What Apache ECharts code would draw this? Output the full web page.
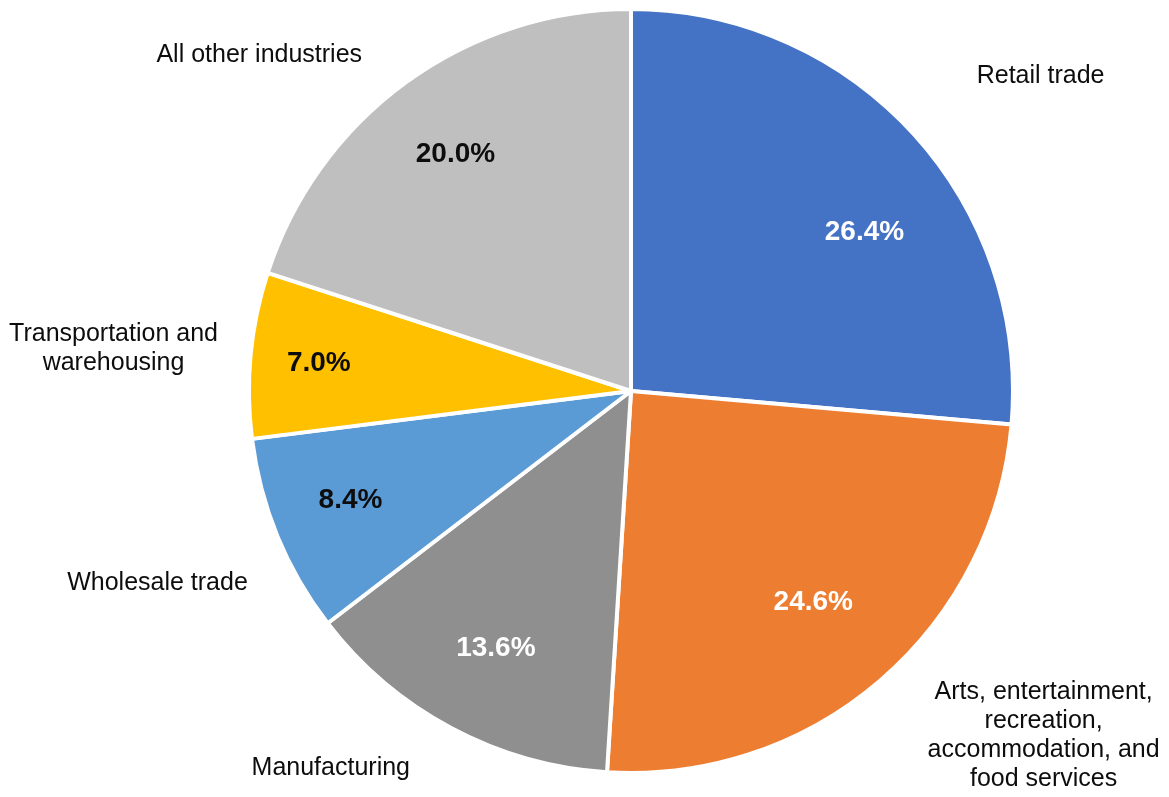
<!DOCTYPE html>
<html><head><meta charset="utf-8">
<script src="https://cdn.jsdelivr.net/npm/echarts@6/dist/echarts.min.js"></script>
<style>html,body{margin:0;padding:0;background:#fff}#c{width:1169px;height:797px}</style>
</head><body><div id="c"></div>
<script>
// ---- data ----
const categories = ['Retail trade', 'Arts, entertainment, recreation, accommodation, and food services', 'Manufacturing', 'Wholesale trade', 'Transportation and warehousing', 'All other industries'];
const categoryLabelLines = [
  ['Retail trade'],
  ['Arts, entertainment,', 'recreation,', 'accommodation, and', 'food services'],
  ['Manufacturing'],
  ['Wholesale trade'],
  ['Transportation and', 'warehousing'],
  ['All other industries']
];
const shares = [26.4, 24.6, 13.6, 8.4, 7.0, 20.0];

// ---- style ----
const sliceColors = ['#4472C4', '#ED7D31', '#8F8F8F', '#5B9BD5', '#FFC000', '#BFBFBF'];
const pctColors = ['#ffffff', '#ffffff', '#ffffff', '#0d0d0d', '#0d0d0d', '#0d0d0d'];
// label placement (as in the original, manually positioned)
const nameLineLen = [84, 73, 45, 123, 64, 33];
const nameLineLen2 = [2, 0, 20, -84, -31, 25];
const pctOffsets = [[17, 39], [-9, -11], [3, -2], [-9, -2], [-20, 0], [-3, 1]];

const FONT = "'Liberation Sans', Arial, sans-serif";
const CENTER = [631, 391];
const R = 382;

const mainData = categories.map((name, i) => ({
  name: name,
  value: shares[i],
  itemStyle: { color: sliceColors[i] },
  labelLine: { show: false, length: nameLineLen[i], length2: nameLineLen2[i] },
  label: {
    formatter: categoryLabelLines[i].map(l => '{c|' + l + '}').join('\n')
  }
}));

const pctData = categories.map((name, i) => ({
  name: name,
  value: shares[i],
  label: { color: pctColors[i], offset: pctOffsets[i] }
}));

const chart = echarts.init(document.getElementById('c'), null, { renderer: 'canvas' });
chart.setOption({
  animation: false,
  backgroundColor: '#ffffff',
  series: [
    {
      type: 'pie',
      center: CENTER,
      radius: [0, R],
      startAngle: 90,
      clockwise: true,
      avoidLabelOverlap: false,
      silent: true,
      itemStyle: { borderColor: '#ffffff', borderWidth: 4 },
      label: {
        show: true,
        position: 'outside',
        alignTo: 'none',
        distanceToLabelLine: 0,
        color: '#0d0d0d',
        fontFamily: FONT,
        fontSize: 25,
        lineHeight: 29,
        rich: {
          c: { align: 'center', fontFamily: FONT, fontSize: 25, lineHeight: 29, color: '#0d0d0d' }
        }
      },
      data: mainData
    },
    {
      type: 'pie',
      center: CENTER,
      radius: [199, R],
      startAngle: 90,
      clockwise: true,
      avoidLabelOverlap: false,
      silent: true,
      itemStyle: { color: 'rgba(0,0,0,0)', borderWidth: 0 },
      labelLine: { show: false },
      label: {
        show: true,
        position: 'inside',
        fontFamily: FONT,
        fontSize: 28,
        fontWeight: 'bold',
        formatter: p => p.value.toFixed(1) + '%'
      },
      data: pctData
    }
  ]
});
</script>
</body></html>
